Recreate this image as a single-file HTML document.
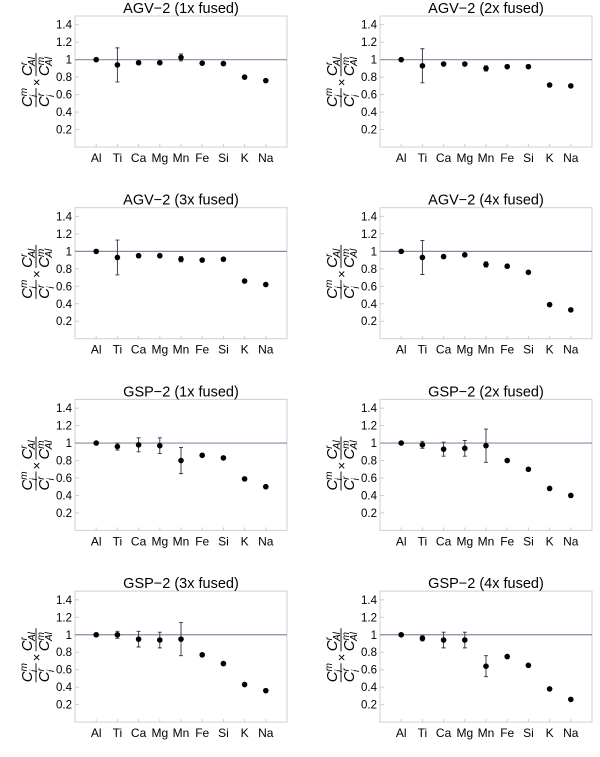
<!DOCTYPE html>
<html><head><meta charset="utf-8"><style>
body{margin:0;background:#fff;}
svg{display:block;font-family:"Liberation Sans",sans-serif;}
</style></head><body>
<svg id="chart" width="600" height="757" viewBox="0 0 600 757" xmlns="http://www.w3.org/2000/svg"></svg>
<script>
const categories=["Al","Ti","Ca","Mg","Mn","Fe","Si","K","Na"];
const titles=["AGV\u22122 (1x fused)","AGV\u22122 (2x fused)","AGV\u22122 (3x fused)","AGV\u22122 (4x fused)","GSP\u22122 (1x fused)","GSP\u22122 (2x fused)","GSP\u22122 (3x fused)","GSP\u22122 (4x fused)"];
const values=[
[1,0.94,0.965,0.965,1.025,0.96,0.955,0.80,0.76],
[1,0.93,0.95,0.95,0.90,0.92,0.92,0.71,0.70],
[1,0.93,0.95,0.95,0.91,0.90,0.91,0.66,0.62],
[1,0.93,0.94,0.96,0.85,0.83,0.76,0.39,0.33],
[1,0.96,0.98,0.97,0.80,0.86,0.83,0.59,0.50],
[1,0.98,0.93,0.94,0.97,0.80,0.70,0.48,0.40],
[1,1.00,0.95,0.94,0.95,0.77,0.67,0.43,0.36],
[1,0.96,0.94,0.94,0.64,0.75,0.65,0.38,0.26]];
const errors=[
[0,0.195,0.01,0.01,0.04,0.01,0.01,0.02,0.01],
[0,0.195,0.01,0.01,0.03,0.01,0.01,0.015,0.01],
[0,0.2,0.01,0.01,0.03,0.01,0.01,0.015,0.01],
[0,0.195,0.01,0.01,0.03,0.01,0.01,0.01,0.01],
[0,0.04,0.08,0.09,0.15,0.02,0.01,0.01,0.01],
[0,0.04,0.08,0.09,0.19,0.01,0.01,0.01,0.01],
[0,0.04,0.09,0.09,0.19,0.01,0.01,0.01,0.01],
[0,0.03,0.09,0.09,0.12,0.01,0.01,0.01,0.01]];
const yTicks=[0.2,0.4,0.6,0.8,1,1.2,1.4];
const tickLabels=["0.2","0.4","0.6","0.8","1","1.2","1.4"];

const NS="http://www.w3.org/2000/svg";
const svg=document.getElementById("chart");
function mk(tag,attrs,parent){const e=document.createElementNS(NS,tag);for(const k in attrs)e.setAttribute(k,attrs[k]);parent.appendChild(e);return e;}

titles.forEach((t,p)=>{
  const ox=(p%2)*305, oy=Math.floor(p/2)*191.7;
  const L=75+ox,R=287+ox,T=16+oy,B=147+oy;
  const xs=i=>L+(i+1)*(R-L)/10;
  const ys=v=>B-v*(B-T)/1.5;
  const g=mk("g",{},svg);
  
  
  const box=mk("rect",{x:L,y:T,width:R-L,height:B-T,fill:"none",stroke:"#d0d0d0","stroke-width":1},g);
  
  
  const tt=mk("text",{x:(L+R)/2,y:T-3,"text-anchor":"middle","font-size":14.5,fill:"#000"},g);
  tt.textContent=t;
  
  
  yTicks.forEach((v,k)=>{
    mk("line",{x1:L,x2:L+4,y1:ys(v),y2:ys(v),stroke:"#ccc"},g);
    const tl=mk("text",{x:L-3,y:ys(v)+4,"text-anchor":"end","font-size":11.5},g);
    tl.textContent=tickLabels[k];
    
    
  });
  const ref=mk("line",{x1:L,x2:R,y1:ys(1),y2:ys(1),stroke:"#8a8aa8","stroke-width":1.2},g);
  
  
  categories.forEach((c,i)=>{
    mk("line",{x1:xs(i),x2:xs(i),y1:B,y2:B-3,stroke:"#ccc"},g);
    const xl=mk("text",{x:xs(i),y:B+15,"text-anchor":"middle","font-size":12},g);
    xl.textContent=c;
    
    
    const v=values[p][i],e=errors[p][i];
    if(e>0.015){
      const eb=mk("path",{d:`M${xs(i)},${ys(v+e)}V${ys(v-e)}M${xs(i)-2},${ys(v+e)}h4M${xs(i)-2},${ys(v-e)}h4`,stroke:"#333","stroke-width":0.9,fill:"none"},g);
      
      
    }
    const d=mk("circle",{cx:xs(i),cy:ys(v),r:2.8,fill:"#000"},g);
    
    
  });
  const cy=ys(0.8)+2;
  const lab=mk("g",{transform:`translate(${L-39},${cy}) rotate(-90)`,"font-size":15,"font-style":"italic"},g);
  
  
  lab.innerHTML=`<text x="-28" y="-4">C<tspan font-size="10" dy="-5">m</tspan><tspan font-size="10" dx="-9" dy="10">i</tspan></text>
<line x1="-28" x2="-9" y1="0" y2="0" stroke="#000" stroke-width="0.9"/>
<text x="-28" y="13">C<tspan font-size="10" dy="-5">r</tspan><tspan font-size="10" dx="-4" dy="10">i</tspan></text>
<text x="-7" y="5" font-size="13" font-style="normal">×</text>
<text x="3" y="-4">C<tspan font-size="10" dy="-5">r</tspan><tspan font-size="10" dx="-4" dy="8">Al</tspan></text>
<line x1="3" x2="26" y1="0" y2="0" stroke="#000" stroke-width="0.9"/>
<text x="3" y="13">C<tspan font-size="10" dy="-5">m</tspan><tspan font-size="10" dx="-9" dy="8">Al</tspan></text>`;
});
</script>
</body></html>
